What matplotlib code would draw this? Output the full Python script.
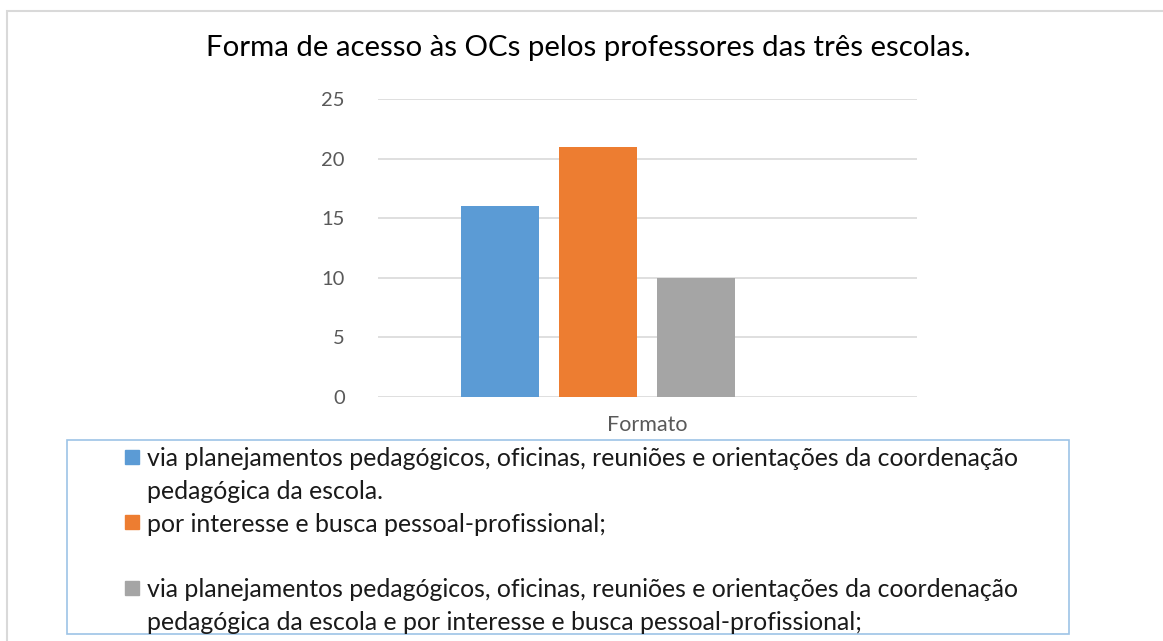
import numpy as np
import matplotlib
matplotlib.use("Agg")
import matplotlib.pyplot as plt
from matplotlib.patches import Rectangle

plt.rcParams['font.family'] = ['Lato', 'DejaVu Sans']

# data
category = "Formato"
series_labels = [
    "via planejamentos pedagógicos, oficinas, reuniões e orientações da coordenação\npedagógica da escola.",
    "por interesse e busca pessoal-profissional;\n",
    "via planejamentos pedagógicos, oficinas, reuniões e orientações da coordenação\npedagógica da escola e por interesse e busca pessoal-profissional;",
]
series_values = [16, 21, 10, np.nan]   # 4th series is empty in the original
colors = ['#5B9BD5', '#ED7D31', '#A5A5A5', '#FFC000']
title = "Forma de acesso às OCs pelos professores das três escolas."
yticks = [0, 5, 10, 15, 20, 25]

W, H = 1163, 641
fig = plt.figure(figsize=(W/100, H/100), dpi=100)

# outer chart border
fig.patches.append(Rectangle((7/W, -0.1), 1.2, 1 - 11/H + 0.1, transform=fig.transFigure,
                             fill=False, edgecolor='#D9D9D9', linewidth=1.5))

ax = fig.add_axes([378/W, 1 - 397/H, 539/W, 298/H])
x = np.arange(len(series_values))
for i, v in enumerate(series_values):
    if not np.isnan(v):
        ax.bar(x[i], v, width=0.796, color=colors[i], zorder=3)

ax.set_xlim(-1.245, 4.255)
ax.set_ylim(0, 25)
ax.set_yticks(yticks)
ax.set_xticks([1.5])
ax.set_xticklabels([category])
ax.grid(axis='y', color='#D9D9D9', linewidth=1.2, zorder=0)
for s in ax.spines.values():
    s.set_visible(False)
ax.tick_params(axis='y', length=0, pad=24, labelsize=14.5, labelcolor='#595959')
ax.tick_params(axis='x', length=0, pad=13, labelsize=15.5, labelcolor='#595959')

fig.text(588/W, 1 - 48/H, title, ha='center', va='center', fontsize=21.2, color='#000000')

# legend box drawn by hand
fig.patches.append(Rectangle((67/W, 1 - 634/H), 1002/W, 194/H, transform=fig.transFigure,
                             fill=False, edgecolor='#9DC3E6', linewidth=1.2))
line_h = 32.7
y_line = 457
for lab, c in zip(series_labels, colors):
    fig.patches.append(Rectangle((125/W, 1 - (y_line + 7)/H), 14/W, 14/H,
                                 transform=fig.transFigure, color=c))
    for ln in lab.split("\n"):
        fig.text(147/W, 1 - y_line/H, ln, ha='left', va='center_baseline',
                 fontsize=17.9, color='#1a1a1a')
        y_line += line_h

fig.savefig("out.png", dpi=100)
